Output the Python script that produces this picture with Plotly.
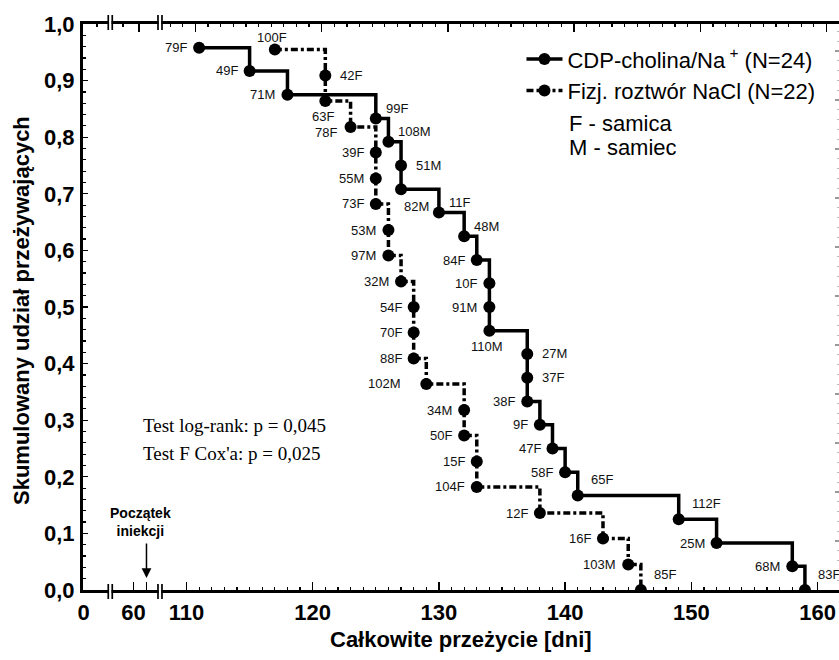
import plotly.graph_objects as go

# ---------------- data ----------------
cdp_days = [111, 115, 118, 125, 126, 127, 127, 130, 132, 133, 134, 134, 134,
            137, 137, 137, 138, 139, 140, 141, 149, 152, 158, 159]
cdp_surv = [0.958, 0.917, 0.875, 0.833, 0.792, 0.750, 0.708, 0.667, 0.625,
            0.583, 0.542, 0.500, 0.458, 0.417, 0.375, 0.333, 0.292, 0.250,
            0.208, 0.167, 0.125, 0.083, 0.042, 0.000]
cdp_ids = ["79F", "49F", "71M", "99F", "108M", "51M", "82M", "11F", "48M",
           "84F", "10F", "91M", "110M", "27M", "37F", "38F", "9F", "47F",
           "58F", "65F", "112F", "25M", "68M", "83F"]

ctrl_days = [117, 121, 121, 123, 125, 125, 125, 126, 126, 127, 128, 128, 128,
             129, 132, 132, 133, 133, 138, 143, 145, 146]
ctrl_surv = [0.955, 0.909, 0.864, 0.818, 0.773, 0.727, 0.682, 0.636, 0.591,
             0.545, 0.500, 0.455, 0.409, 0.364, 0.318, 0.273, 0.227, 0.182,
             0.136, 0.091, 0.045, 0.000]
ctrl_ids = ["100F", "42F", "63F", "78F", "39F", "55M", "73F", "53M", "97M",
            "32M", "54F", "70F", "88F", "102M", "34M", "50F", "15F", "104F",
            "12F", "16F", "103M", "85F"]

x_tick_labels = ["0", "60", "110", "120", "130", "140", "150", "160"]
y_tick_vals = [0.0, 0.1, 0.2, 0.3, 0.4, 0.5, 0.6, 0.7, 0.8, 0.9, 1.0]
y_tick_text = ["0,0", "0,1", "0,2", "0,3", "0,4", "0,5", "0,6", "0,7", "0,8", "0,9", "1,0"]

name_cdp = "CDP-cholina/Na<sup> +</sup> (N=24)"
name_ctrl = "Fizj. roztwór NaCl (N=22)"

# ---------------- label placement (style) ----------------
cdp_pos = ["l", "l", "l", "ur", "ur", "r", "br", "ur", "ur", "l", "l", "l", "b",
           "r", "r", "l", "l", "l", "l", "UR", "UR", "l", "l", "UR"]
ctrl_pos = ["a", "r", "b", "lb", "l", "l", "l", "l", "l", "l", "l", "l", "l",
            "L", "l", "l", "l", "l", "l", "l", "l", "UR"]
POS = {
    "l": ("right", -10, 0),
    "L": ("right", -23, 0),
    "lb": ("right", -12, -5),
    "r": ("left", 13, 0),
    "ur": ("left", 8, 10),
    "UR": ("left", 11, 16),
    "b": ("center", -2, -16),
    "br": ("left", 1, -17),
    "a": ("center", -3, 12),
}

# ---------------- broken x axis geometry ----------------
PLOT_W, PLOT_H = 756, 566
X_RANGE = [101.80, 161.70]          # display units (1 unit = 1 day past the break)
X_ZERO = 101.85                     # where "0" sits on the compressed part
X_SIXTY = 105.80                    # where "60" sits
X_ARROW = 106.83                    # start of injections
BREAKS = [103.96, 107.90]
TOP_SHIFT = 0.71                    # top axis ticks are offset in the original
main_ticks = [110, 120, 130, 140, 150, 160]
minor_main = [d for d in range(111, 160) if d % 10 != 0]
PX_X = (X_RANGE[1] - X_RANGE[0]) / PLOT_W
PX_Y = 1.0 / PLOT_H

FONT = "Liberation Sans, Arial, sans-serif"
SERIF = "Liberation Serif, Times New Roman, serif"

fig = go.Figure()

fig.add_trace(go.Scatter(
    x=cdp_days, y=cdp_surv, name=name_cdp, mode="lines+markers",
    line=dict(shape="hv", color="black", width=3.5),
    marker=dict(size=12, color="black"),
    hoverinfo="skip"))
fig.add_trace(go.Scatter(
    x=ctrl_days, y=ctrl_surv, name=name_ctrl, mode="lines+markers",
    line=dict(shape="hv", color="black", width=3.5, dash="7px,3px,3px,3px"),
    marker=dict(size=12, color="black"),
    hoverinfo="skip"))
# helper (empty) trace to bring up the top / right axes
fig.add_trace(go.Scatter(x=[], y=[], xaxis="x2", yaxis="y2", showlegend=False,
                         hoverinfo="skip"))

annotations = []
for days, surv, ids, pos in [(cdp_days, cdp_surv, cdp_ids, cdp_pos),
                             (ctrl_days, ctrl_surv, ctrl_ids, ctrl_pos)]:
    for d, s, t, p in zip(days, surv, ids, pos):
        xa, xs, ys = POS[p]
        annotations.append(dict(
            x=d, y=s, xref="x", yref="y", text=t, showarrow=False,
            xanchor=xa, yanchor="middle", xshift=xs, yshift=ys,
            font=dict(family=FONT, size=13, color="#111")))

annotations.append(dict(x=X_SIXTY + 0.56, y=0.2915, xref="x", yref="y",
                        text="Test log-rank: p = 0,045", showarrow=False,
                        xanchor="left", yanchor="middle",
                        font=dict(family=SERIF, size=19, color="black")))
annotations.append(dict(x=X_SIXTY + 0.56, y=0.242, xref="x", yref="y",
                        text="Test F Cox'a: p = 0,025", showarrow=False,
                        xanchor="left", yanchor="middle",
                        font=dict(family=SERIF, size=19, color="black")))
annotations.append(dict(x=X_ARROW - 0.47, y=0.12, xref="x", yref="y",
                        text="<b>Początek<br>iniekcji</b>", showarrow=False,
                        xanchor="center", yanchor="middle",
                        font=dict(family=FONT, size=14, color="black")))
annotations.append(dict(x=X_ARROW, y=0.021, xref="x", yref="y", text="",
                        showarrow=True, ax=0, ay=-36, arrowhead=2,
                        arrowsize=1.3, arrowwidth=1.5, arrowcolor="black"))
annotations.append(dict(x=0.640, y=0.825, xref="paper", yref="paper",
                        text="F - samica", showarrow=False, xanchor="left",
                        yanchor="middle", font=dict(family=FONT, size=22, color="black")))
annotations.append(dict(x=0.640, y=0.781, xref="paper", yref="paper",
                        text="M - samiec", showarrow=False, xanchor="left",
                        yanchor="middle", font=dict(family=FONT, size=22, color="black")))
annotations.append(dict(x=0.5, y=-0.0883, xref="paper", yref="paper",
                        text="<b>Całkowite przeżycie [dni]</b>", showarrow=False,
                        xanchor="center", yanchor="middle",
                        font=dict(family=FONT, size=22, color="black")))
annotations.append(dict(x=-0.0807, y=0.4947, xref="paper", yref="paper",
                        text="<b>Skumulowany udział przeżywających</b>",
                        showarrow=False, textangle=-90, xanchor="center",
                        yanchor="middle", font=dict(family=FONT, size=22, color="black")))

# axis breaks (double bars crossing bottom and top axis lines)
shapes = []
for b in BREAKS:
    for yc in (-1.5 * PX_Y, 1 + 1.5 * PX_Y):
        shapes.append(dict(type="rect", xref="x", yref="paper", layer="above",
                           x0=b - 1.3 * PX_X, x1=b + 1.3 * PX_X,
                           y0=yc - 2.2 * PX_Y, y1=yc + 2.2 * PX_Y,
                           fillcolor="white", line=dict(width=0)))
        for off in (-2.0, 2.0):
            shapes.append(dict(type="line", xref="x", yref="paper", layer="above",
                               x0=b + off * PX_X, x1=b + off * PX_X,
                               y0=yc - 7.5 * PX_Y, y1=yc + 7.5 * PX_Y,
                               line=dict(color="black", width=1.7)))

fig.update_layout(
    width=839, height=660,
    margin=dict(l=83, r=0, t=24, b=70, autoexpand=False),
    paper_bgcolor="white", plot_bgcolor="white",
    showlegend=True,
    legend=dict(x=0.580, y=0.975, xanchor="left", yanchor="top",
                font=dict(family=FONT, size=22, color="black"),
                bgcolor="rgba(0,0,0,0)", itemwidth=36, tracegroupgap=0),
    annotations=annotations,
    shapes=shapes,
    xaxis=dict(range=X_RANGE, showgrid=False, zeroline=False,
               showline=True, linewidth=3, linecolor="black",
               tickmode="array",
               tickvals=[X_ZERO, X_SIXTY, X_ARROW] + main_ticks,
               ticktext=x_tick_labels[:2] + [""] + x_tick_labels[2:],
               ticks="inside", ticklen=8, tickwidth=1.3, tickcolor="black",
               minor=dict(tickmode="array", tickvals=minor_main, ticks="inside",
                          ticklen=3, tickwidth=1.2, tickcolor="black"),
               tickfont=dict(family=FONT, size=22, color="black", weight="bold"),
               ticklabelstandoff=1, automargin=False),
    xaxis2=dict(overlaying="x", side="top", anchor="y",
                range=[X_RANGE[0] - TOP_SHIFT, X_RANGE[1] - TOP_SHIFT],
                showgrid=False, zeroline=False, showline=True, linewidth=3,
                linecolor="black", showticklabels=False, tickmode="array",
                tickvals=[105.53] + main_ticks, ticks="inside", ticklen=8,
                tickwidth=1.3, tickcolor="black",
                minor=dict(tickmode="array",
                           tickvals=[102.20, 104.26, 108, 109] + minor_main,
                           ticks="inside", ticklen=3, tickwidth=1.2,
                           tickcolor="black")),
    yaxis=dict(range=[0, 1], showgrid=False, zeroline=False,
               showline=True, linewidth=3, linecolor="black",
               tickmode="array", tickvals=y_tick_vals, ticktext=y_tick_text,
               ticks="inside", ticklen=5, tickwidth=1.3, tickcolor="black",
               minor=dict(dtick=0.02, ticks="inside", ticklen=3, tickwidth=1.2,
                          tickcolor="black"),
               tickfont=dict(family=FONT, size=22, color="black", weight="bold"),
               ticklabelstandoff=1, automargin=False),
    yaxis2=dict(overlaying="y", side="right", anchor="x2",
                range=[0, 566 / 49], showgrid=False, zeroline=False,
                showline=False, showticklabels=False, tick0=0, dtick=1,
                ticks="inside", ticklen=4, tickwidth=1.2, tickcolor="#999",
                minor=dict(dtick=0.2, ticks="inside", ticklen=2, tickwidth=1,
                           tickcolor="#bbb")),
)

fig.write_html("out.html",
               config={"displayModeBar": False, "staticPlot": True},
               post_script="document.body.style.margin='0px';"
                           "document.body.style.overflow='hidden';")
